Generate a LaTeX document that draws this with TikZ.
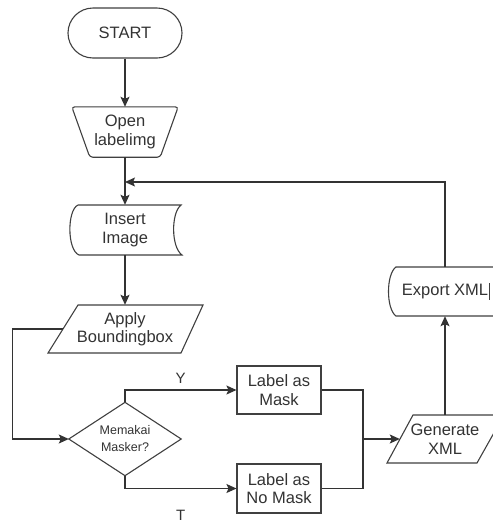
\documentclass[tikz,border=0pt]{standalone}
\usepackage{fontspec}
\setmainfont{Liberation Sans}
\usetikzlibrary{arrows.meta,shapes.misc}

\tikzset{
  flow/.style={line width=1.2pt, draw=black!80},
  arr/.style={flow, -{Stealth[length=10pt,width=9pt,inset=2pt]}},
  outline/.style={line width=1.1pt, draw=black!75},
  txt/.style={font=\fontsize{16.5}{18.5}\selectfont, align=center, inner sep=0pt, text=black!80},
  small/.style={font=\fontsize{12.5}{17}\selectfont, align=center, inner sep=0pt, text=black!80},
  branch/.style={font=\fontsize{15}{16}\selectfont, inner sep=0pt, text=black!80},
  frame/.style={rectangle, txt},
  terminal/.style={rounded rectangle, outline, txt, minimum width=114pt, minimum height=50pt},
  procbox/.style={rectangle, outline, txt, minimum width=84pt, minimum height=48pt},
}

\begin{document}
\begin{tikzpicture}[x=1pt,y=1pt]
\useasboundingbox (0,0) rectangle (493,-523);
\clip (0,0) rectangle (493,-523);
\fill[white] (0,0) rectangle (493,-523);

% start / open / insert / apply column
\node[terminal] (start) at (125,-33) {START};

\node[frame, minimum width=106pt, minimum height=50pt] (open) at (125,-132) {Open\\labelimg};
\draw[outline, rounded corners=3pt] (open.north west) -- (open.north east)
  -- ([xshift=-18pt]open.south east) -- ([xshift=18pt]open.south west) -- cycle;

\node[frame, minimum width=110pt, minimum height=50pt] (ins) at (125,-230) {Insert\\Image};
\draw[outline] (78,-205) -- (181,-205)
  .. controls (171,-213) and (171,-247) .. (182,-255)
  -- (79,-255) .. controls (67,-250) and (67,-210) .. (78,-205);

\node[frame, minimum width=124pt, minimum height=48pt] (app) at (125,-329) {Apply\\Boundingbox};
\draw[outline] (78,-305) -- (203,-305) -- (181,-353) -- (48,-353) -- cycle;

% decision
\node[frame, small, minimum width=112pt, minimum height=73pt] (dec) at (125,-439) {Memakai\\Masker?};
\draw[outline] (dec.west) -- (dec.north) -- (dec.east) -- (dec.south) -- cycle;

% labelling boxes
\node[procbox] (mask) at (279,-390) {Label as\\Mask};
\node[procbox, minimum height=49pt] (nomask) at (279,-488.5) {Label as\\No Mask};

% generate / export
\node[frame, minimum width=90pt, minimum height=48pt] (gen) at (445,-439) {Generate\\XML};
\draw[outline] (413,-415) -- (504,-415) -- (477,-463) -- (387,-463) -- cycle;

\node[frame, minimum width=114pt, minimum height=49pt] (exp) at (445,-291.5) {Export XML};
\draw[outline] (505,-267) -- (396,-267)
  .. controls (386,-274) and (386,-309) .. (396,-316) -- (505,-316);
\draw[outline, line width=1pt] (489.5,-283) -- (489.5,-300);

% connectors
\coordinate (fb) at (125,-182);
\coordinate (join) at (363,-439);

\draw[arr] (start.south) -- (open.north);
\draw[arr] (open.south) -- (ins.north);
\draw[arr] (exp.north) |- (fb);
\draw[arr] (ins.south) -- (app.north);
\draw[arr] (app.west) -- ++(-50,0) |- (dec.west);
\draw[arr] (dec.north) |- (mask.west) node[pos=0.75, above=6pt, branch] {Y};
\draw[arr] (dec.south) |- (nomask.west) node[pos=0.75, below=21pt, branch] {T};
\draw[flow] (mask.east) -| (join);
\draw[flow] (nomask.east) -| (join);
\draw[arr] (join) -- (gen.west);
\draw[arr] (gen.north) -- (exp.south);
\end{tikzpicture}
\end{document}
